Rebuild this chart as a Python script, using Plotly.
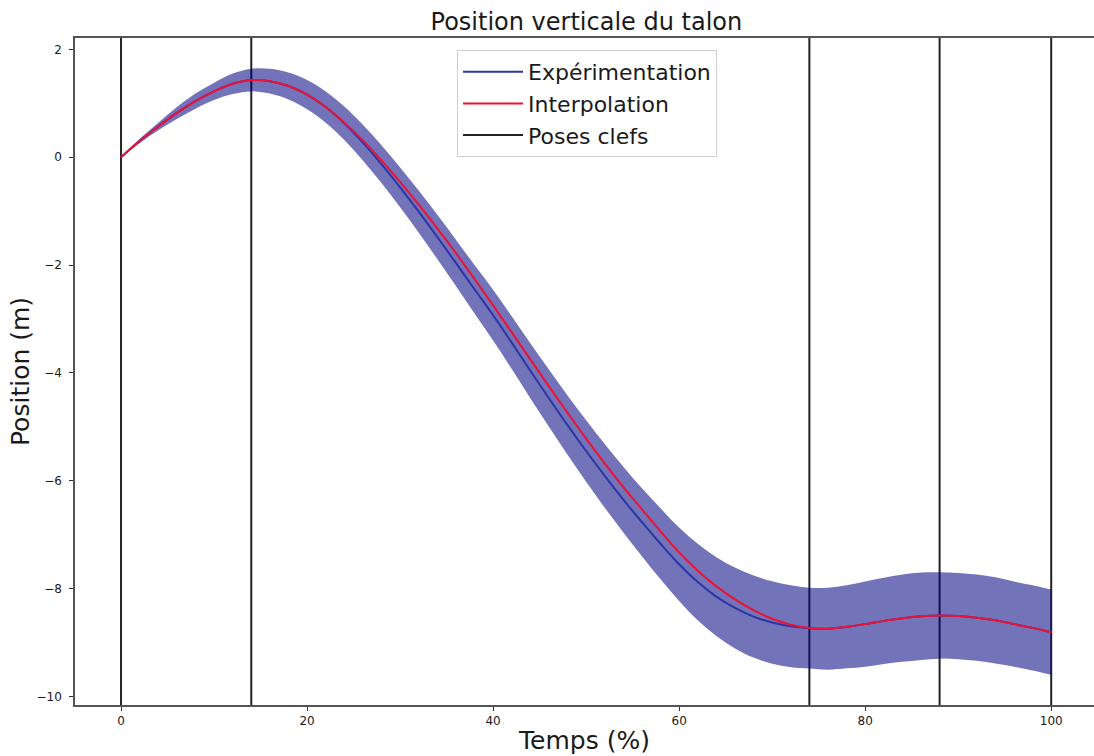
import plotly.graph_objects as go

# Time (%)
temps = [0, 2, 4, 6, 8, 10, 12, 14, 16, 18, 20, 22, 24, 26, 28, 30, 32, 34, 36, 38, 40,
         42, 44, 46, 48, 50, 52, 54, 56, 58, 60, 62, 64, 66, 68, 70, 72, 74, 76, 78, 80,
         82, 84, 86, 88, 90, 92, 94, 96, 98, 100]

# Interpolation (red)
interpolation = [0, 0.30, 0.57, 0.82, 1.04, 1.22, 1.36, 1.43, 1.41, 1.32, 1.16, 0.93, 0.64,
                 0.31, -0.06, -0.46, -0.88, -1.32, -1.78, -2.26, -2.75, -3.25, -3.75, -4.25,
                 -4.74, -5.22, -5.68, -6.12, -6.53, -6.94, -7.33, -7.67, -7.96, -8.20, -8.40,
                 -8.56, -8.67, -8.73, -8.745, -8.71, -8.66, -8.60, -8.55, -8.515, -8.50, -8.51,
                 -8.54, -8.59, -8.66, -8.73, -8.81]

# Experimental mean (blue)
experimentation = [0, 0.30, 0.57, 0.82, 1.04, 1.22, 1.36, 1.43, 1.41, 1.32, 1.16, 0.93, 0.63,
                   0.27, -0.13, -0.56, -1.01, -1.48, -1.96, -2.45, -2.93, -3.44, -3.96, -4.47,
                   -4.97, -5.45, -5.91, -6.35, -6.77, -7.17, -7.55, -7.88, -8.15, -8.36, -8.52,
                   -8.63, -8.70, -8.735, -8.745, -8.71, -8.66, -8.60, -8.55, -8.515, -8.50,
                   -8.51, -8.54, -8.59, -8.66, -8.73, -8.81]

# Standard deviation band half-width
ecart = [0, 0.04, 0.07, 0.11, 0.14, 0.16, 0.19, 0.21, 0.23, 0.25, 0.27, 0.29, 0.31, 0.33,
         0.35, 0.37, 0.39, 0.41, 0.43, 0.45, 0.47, 0.49, 0.51, 0.53, 0.55, 0.57, 0.59, 0.61,
         0.63, 0.66, 0.68, 0.71, 0.73, 0.75, 0.76, 0.765, 0.76, 0.75, 0.76, 0.77, 0.79, 0.80,
         0.81, 0.81, 0.80, 0.80, 0.80, 0.80, 0.79, 0.79, 0.79]

poses_clefs = [0, 14, 74, 88, 100]

x_ticks = [0, 20, 40, 60, 80, 100]
y_ticks = [2, 0, -2, -4, -6, -8, -10]

x_range = [-4.95, 104.6]
y_range = [-10.16, 2.21]

upper = [m + s for m, s in zip(experimentation, ecart)]
lower = [m - s for m, s in zip(experimentation, ecart)]

fig = go.Figure()

# key poses (vertical lines)
for i, p in enumerate(poses_clefs):
    fig.add_trace(go.Scatter(
        x=[p, p], y=y_range, mode="lines",
        line=dict(color="#222222", width=2),
        name="Poses clefs", legendgroup="poses", showlegend=(i == 0),
        legendrank=3, hoverinfo="skip"))

# band
fig.add_trace(go.Scatter(x=temps, y=lower, mode="lines", line=dict(width=0, shape="spline"),
                         showlegend=False, hoverinfo="skip"))
fig.add_trace(go.Scatter(x=temps, y=upper, mode="lines", line=dict(width=0, shape="spline"),
                         fill="tonexty", fillcolor="rgba(0,0,128,0.55)",
                         showlegend=False, hoverinfo="skip"))

fig.add_trace(go.Scatter(x=temps, y=experimentation, mode="lines",
                         line=dict(color="#2a36a6", width=2, shape="spline"),
                         name="Expérimentation", legendgroup="exp", legendrank=1))
fig.add_trace(go.Scatter(x=temps, y=interpolation, mode="lines",
                         line=dict(color="#ee1133", width=2, shape="spline"),
                         name="Interpolation", legendgroup="interp", legendrank=2))

font_family = "DejaVu Sans"
fig.update_layout(
    width=1094, height=756,
    margin=dict(l=75, r=0, t=38, b=51),
    paper_bgcolor="white", plot_bgcolor="white",
    font=dict(family=font_family, color="#1a1a1a"),
    title=dict(text="Position verticale du talon", x=0.536, xanchor="center",
               y=0.971, yanchor="middle", font=dict(size=24, family=font_family)),
    legend=dict(x=0.5025, xanchor="center", y=0.982, yanchor="top",
                bgcolor="rgba(255,255,255,0.85)", bordercolor="#d0d0d0", borderwidth=1,
                font=dict(size=22, family=font_family), traceorder="grouped",
                tracegroupgap=0, itemwidth=60),
    showlegend=True,
)
fig.update_xaxes(range=x_range, tickvals=x_ticks, showgrid=False, automargin=False,
                 zeroline=False, showline=True, linecolor="#555555", linewidth=1.5,
                 mirror=True, ticks="outside", ticklen=4, tickcolor="#333333",
                 tickfont=dict(size=12), title=dict(text="Temps (%)", font=dict(size=25),
                                                    standoff=4))
fig.update_yaxes(range=y_range, tickvals=y_ticks, showgrid=False, automargin=False,
                 zeroline=False, showline=True, linecolor="#555555", linewidth=1.5,
                 ticks="outside", ticklen=4, tickcolor="#333333", ticklabelstandoff=5,
                 tickfont=dict(size=12), title=dict(text="Position (m)", font=dict(size=25),
                                                    standoff=0))

fig.write_html("out.html", config={"displayModeBar": False},
               post_script="document.body.style.margin='0px';")
